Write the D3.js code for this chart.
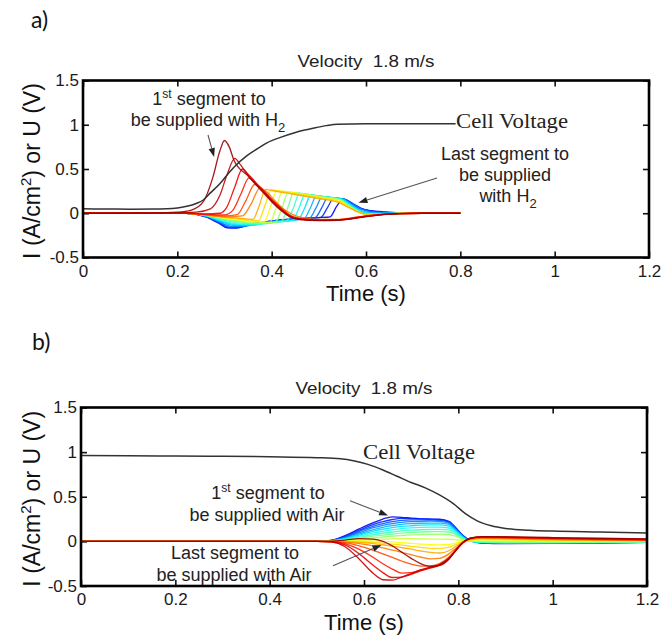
<!DOCTYPE html>
<html><head><meta charset="utf-8">
<script src="https://cdn.jsdelivr.net/npm/d3@7"></script>
<style>body{margin:0;background:#fff}</style>
</head><body>
<svg id="c" width="662" height="637"></svg>
<script>
// ---------- DATA ----------
const xTicks = [0, 0.2, 0.4, 0.6, 0.8, 1, 1.2];
const yTicks = [-0.5, 0, 0.5, 1, 1.5];
const titleText = "Velocity  1.8 m/s";

// Panel a: cell voltage (t, V)
const voltageA = [[0,0.05],[0.05,0.048],[0.1,0.046],[0.15,0.048],[0.2,0.06],[0.22,0.078],[0.24,0.11],[0.255,0.15],[0.27,0.23],[0.29,0.333],[0.305,0.43],[0.32,0.52],[0.347,0.648],[0.37,0.73],[0.39,0.796],[0.42,0.86],[0.447,0.907],[0.47,0.94],[0.49,0.963],[0.515,0.99],[0.54,1.007],[0.6,1.012],[0.7,1.01],[0.79,1.01]];

// Panel a: segment currents, ordered first -> last segment supplied with H2
const segmentsA = [
 [[0,0],[0.15,0.004],[0.2,0.012],[0.23,0.035],[0.255,0.13],[0.275,0.4],[0.29,0.7],[0.3,0.822],[0.31,0.75],[0.32,0.6],[0.35,0.42],[0.38,0.245],[0.4,0.13],[0.42,0.03],[0.44,-0.045],[0.46,-0.072],[0.5,-0.083],[0.54,-0.08],[0.57,-0.062],[0.6,-0.038],[0.63,-0.018],[0.67,-0.005],[0.72,0],[0.8,0]],
 [[0,0],[0.2,0.004],[0.24,0.012],[0.27,0.05],[0.29,0.2],[0.305,0.43],[0.322,0.62],[0.332,0.56],[0.35,0.43],[0.38,0.255],[0.4,0.14],[0.42,0.04],[0.44,-0.04],[0.46,-0.068],[0.5,-0.08],[0.54,-0.078],[0.57,-0.06],[0.6,-0.036],[0.63,-0.017],[0.67,-0.005],[0.72,0],[0.8,0]],
 [[0,0],[0.22,0],[0.26,-0.008],[0.29,0],[0.305,0.07],[0.322,0.3],[0.338,0.5],[0.35,0.44],[0.38,0.265],[0.4,0.15],[0.42,0.05],[0.44,-0.035],[0.46,-0.065],[0.5,-0.078],[0.54,-0.076],[0.57,-0.058],[0.6,-0.034],[0.63,-0.016],[0.67,-0.005],[0.72,0],[0.8,0]],
 [[0,0],[0.22,0],[0.26,-0.012],[0.3,-0.018],[0.317,0.03],[0.335,0.22],[0.352,0.4],[0.365,0.345],[0.38,0.27],[0.4,0.155],[0.42,0.055],[0.44,-0.03],[0.46,-0.062],[0.5,-0.076],[0.54,-0.074],[0.57,-0.056],[0.6,-0.032],[0.63,-0.015],[0.67,-0.004],[0.72,0],[0.8,0]],
 [[0,0],[0.22,0],[0.26,-0.016],[0.3,-0.03],[0.327,-0.015],[0.345,0.14],[0.364,0.325],[0.38,0.275],[0.4,0.16],[0.42,0.06],[0.44,-0.025],[0.46,-0.058],[0.5,-0.074],[0.54,-0.072],[0.57,-0.054],[0.6,-0.03],[0.63,-0.014],[0.67,-0.004],[0.72,0],[0.8,0]],
 [[0,0],[0.22,0],[0.26,-0.02],[0.3,-0.042],[0.338,-0.03],[0.356,0.1],[0.375,0.285],[0.39,0.24],[0.41,0.125],[0.43,0.03],[0.45,-0.028],[0.47,-0.055],[0.5,-0.07],[0.54,-0.07],[0.57,-0.052],[0.6,-0.029],[0.63,-0.013],[0.67,-0.003],[0.72,0],[0.8,0]],
 [[0,0],[0.22,0],[0.26,-0.015],[0.3,-0.04],[0.33,-0.055],[0.36,-0.07],[0.374,0.09],[0.387,0.27],[0.4,0.257],[0.45,0.212],[0.5,0.165],[0.54,0.125],[0.56,0.075],[0.58,0.022],[0.6,-0.008],[0.63,-0.01],[0.67,-0.002],[0.72,0],[0.8,0]],
 [[0,0],[0.22,0],[0.26,-0.015],[0.3,-0.045],[0.34,-0.07],[0.372,-0.085],[0.386,0.09],[0.399,0.265],[0.41,0.256],[0.45,0.222],[0.5,0.175],[0.54,0.135],[0.56,0.08],[0.58,0.022],[0.6,-0.01],[0.63,-0.01],[0.67,-0.002],[0.72,0],[0.8,0]],
 [[0,0],[0.22,0],[0.26,-0.018],[0.3,-0.05],[0.34,-0.08],[0.384,-0.095],[0.398,0.08],[0.411,0.258],[0.42,0.25],[0.46,0.22],[0.5,0.182],[0.54,0.142],[0.56,0.085],[0.58,0.024],[0.6,-0.012],[0.63,-0.011],[0.67,-0.002],[0.72,0],[0.8,0]],
 [[0,0],[0.22,0],[0.26,-0.02],[0.3,-0.055],[0.34,-0.085],[0.38,-0.1],[0.396,-0.104],[0.41,0.07],[0.423,0.25],[0.44,0.237],[0.48,0.203],[0.52,0.168],[0.545,0.145],[0.56,0.09],[0.58,0.025],[0.6,-0.012],[0.63,-0.011],[0.67,-0.002],[0.72,0],[0.8,0]],
 [[0,0],[0.22,0],[0.26,-0.02],[0.3,-0.06],[0.34,-0.095],[0.38,-0.11],[0.408,-0.1],[0.422,0.06],[0.435,0.242],[0.45,0.23],[0.49,0.197],[0.52,0.172],[0.545,0.15],[0.56,0.095],[0.58,0.028],[0.6,-0.012],[0.63,-0.01],[0.67,-0.002],[0.72,0],[0.8,0]],
 [[0,0],[0.22,0],[0.26,-0.022],[0.3,-0.07],[0.34,-0.105],[0.37,-0.118],[0.4,-0.105],[0.42,-0.095],[0.434,0.06],[0.447,0.235],[0.46,0.225],[0.5,0.192],[0.545,0.155],[0.56,0.1],[0.58,0.03],[0.6,-0.01],[0.63,-0.009],[0.67,-0.002],[0.72,0],[0.8,0]],
 [[0,0],[0.22,0],[0.26,-0.024],[0.3,-0.08],[0.34,-0.115],[0.375,-0.122],[0.41,-0.1],[0.432,-0.085],[0.446,0.06],[0.459,0.226],[0.47,0.219],[0.51,0.187],[0.545,0.158],[0.56,0.104],[0.58,0.032],[0.6,-0.008],[0.63,-0.007],[0.67,-0.001],[0.72,0],[0.8,0]],
 [[0,0],[0.22,0],[0.26,-0.026],[0.3,-0.09],[0.33,-0.122],[0.36,-0.128],[0.4,-0.105],[0.444,-0.08],[0.458,0.06],[0.471,0.216],[0.49,0.202],[0.52,0.18],[0.545,0.16],[0.56,0.108],[0.58,0.036],[0.6,-0.005],[0.63,-0.005],[0.67,-0.001],[0.72,0],[0.8,0]],
 [[0,0],[0.22,0],[0.26,-0.028],[0.3,-0.1],[0.325,-0.13],[0.355,-0.135],[0.4,-0.1],[0.456,-0.072],[0.47,0.06],[0.483,0.206],[0.5,0.196],[0.53,0.176],[0.548,0.162],[0.565,0.104],[0.585,0.036],[0.6,0.002],[0.63,-0.003],[0.67,0],[0.8,0]],
 [[0,0],[0.22,0],[0.26,-0.03],[0.3,-0.11],[0.32,-0.138],[0.347,-0.142],[0.39,-0.105],[0.43,-0.08],[0.468,-0.065],[0.482,0.06],[0.495,0.196],[0.51,0.189],[0.535,0.172],[0.55,0.163],[0.566,0.108],[0.585,0.042],[0.6,0.012],[0.63,0.001],[0.67,0],[0.8,0]],
 [[0,0],[0.22,0],[0.26,-0.032],[0.3,-0.125],[0.315,-0.15],[0.34,-0.146],[0.38,-0.106],[0.43,-0.075],[0.48,-0.058],[0.494,0.06],[0.507,0.186],[0.52,0.179],[0.54,0.168],[0.553,0.162],[0.568,0.11],[0.59,0.046],[0.61,0.016],[0.64,0.004],[0.68,0],[0.8,0]],
 [[0,0],[0.22,0],[0.26,-0.035],[0.29,-0.1],[0.31,-0.158],[0.33,-0.155],[0.37,-0.11],[0.42,-0.075],[0.46,-0.06],[0.492,-0.05],[0.506,0.06],[0.519,0.176],[0.535,0.169],[0.554,0.16],[0.57,0.112],[0.59,0.052],[0.61,0.021],[0.64,0.006],[0.68,0],[0.8,0]],
 [[0,0],[0.22,0],[0.26,-0.036],[0.29,-0.11],[0.305,-0.16],[0.325,-0.162],[0.36,-0.12],[0.41,-0.08],[0.46,-0.06],[0.504,-0.046],[0.518,0.06],[0.531,0.166],[0.545,0.161],[0.556,0.155],[0.572,0.11],[0.59,0.056],[0.61,0.026],[0.64,0.01],[0.68,0.002],[0.8,0]],
 [[0,0],[0.22,0],[0.26,-0.04],[0.29,-0.12],[0.305,-0.165],[0.325,-0.167],[0.35,-0.135],[0.4,-0.09],[0.45,-0.066],[0.5,-0.05],[0.524,-0.04],[0.538,0.08],[0.552,0.158],[0.562,0.14],[0.575,0.085],[0.59,0.05],[0.61,0.03],[0.64,0.015],[0.67,0.005],[0.72,0],[0.8,0]]
];

// Panel b: cell voltage (t, V)
const voltageB = [[0,0.962],[0.1,0.958],[0.2,0.956],[0.3,0.954],[0.4,0.948],[0.5,0.938],[0.55,0.925],[0.58,0.9],[0.61,0.86],[0.64,0.8],[0.67,0.73],[0.7,0.66],[0.73,0.6],[0.76,0.52],[0.79,0.42],[0.815,0.31],[0.84,0.23],[0.87,0.175],[0.9,0.145],[0.95,0.125],[1.0,0.115],[1.1,0.105],[1.2,0.095]];

// Panel b: sample times and segment currents, ordered first -> last segment supplied with Air
const timesB = [0,0.5,0.53,0.56,0.59,0.62,0.64,0.66,0.68,0.70,0.72,0.74,0.76,0.78,0.795,0.81,0.825,0.85,0.9,1.0,1.1,1.2];
const segmentsB = [
 [0,0,0.012,0.065,0.14,0.21,0.25,0.275,0.27,0.26,0.253,0.25,0.248,0.225,0.15,0.065,0.012,-0.018,-0.024,-0.022,-0.017,-0.012],
 [0,0,0.01,0.055,0.125,0.19,0.222,0.245,0.258,0.256,0.252,0.248,0.244,0.22,0.145,0.06,0.01,-0.017,-0.023,-0.021,-0.016,-0.011],
 [0,0,0.009,0.048,0.112,0.172,0.2,0.222,0.236,0.24,0.24,0.238,0.236,0.213,0.14,0.058,0.008,-0.016,-0.022,-0.02,-0.015,-0.01],
 [0,0,0.008,0.042,0.098,0.153,0.18,0.2,0.214,0.222,0.225,0.226,0.225,0.205,0.135,0.055,0.006,-0.015,-0.02,-0.019,-0.014,-0.01],
 [0,0,0.007,0.036,0.084,0.133,0.158,0.176,0.19,0.198,0.203,0.205,0.205,0.19,0.125,0.05,0.005,-0.013,-0.018,-0.017,-0.013,-0.009],
 [0,0,0.006,0.031,0.071,0.114,0.136,0.154,0.167,0.175,0.181,0.184,0.185,0.172,0.115,0.046,0.004,-0.011,-0.016,-0.015,-0.012,-0.008],
 [0,0,0.005,0.026,0.059,0.094,0.113,0.13,0.143,0.151,0.156,0.159,0.16,0.15,0.1,0.04,0.003,-0.009,-0.014,-0.013,-0.01,-0.007],
 [0,0,0.004,0.021,0.047,0.075,0.091,0.105,0.117,0.125,0.13,0.133,0.135,0.128,0.087,0.035,0.002,-0.007,-0.011,-0.011,-0.009,-0.006],
 [0,0,0.003,0.016,0.036,0.058,0.07,0.082,0.093,0.1,0.105,0.108,0.11,0.105,0.072,0.03,0.002,-0.004,-0.008,-0.008,-0.007,-0.005],
 [0,0,0.002,0.011,0.025,0.04,0.049,0.058,0.066,0.072,0.076,0.079,0.08,0.077,0.055,0.024,0.004,0,-0.004,-0.005,-0.004,-0.003],
 [0,0,0.001,0.006,0.013,0.02,0.024,0.028,0.03,0.03,0.028,0.026,0.025,0.024,0.018,0.01,0.006,0.006,0.004,0.001,0,-0.001],
 [0,0,0,0.002,0.004,0.003,0,-0.006,-0.014,-0.022,-0.03,-0.036,-0.04,-0.035,-0.018,0.002,0.014,0.02,0.016,0.009,0.005,0.002],
 [0,0,0,-0.002,-0.006,-0.012,-0.02,-0.03,-0.042,-0.055,-0.068,-0.078,-0.08,-0.065,-0.035,-0.003,0.018,0.027,0.022,0.013,0.008,0.005],
 [0,0,0,-0.004,-0.012,-0.025,-0.038,-0.053,-0.07,-0.088,-0.108,-0.124,-0.13,-0.105,-0.055,-0.008,0.022,0.033,0.028,0.018,0.012,0.008],
 [0,0,-0.001,-0.008,-0.025,-0.05,-0.072,-0.097,-0.122,-0.148,-0.175,-0.195,-0.19,-0.14,-0.075,-0.013,0.024,0.038,0.034,0.023,0.016,0.011],
 [0,0,-0.002,-0.015,-0.05,-0.1,-0.14,-0.18,-0.22,-0.255,-0.278,-0.275,-0.25,-0.175,-0.09,-0.014,0.027,0.043,0.039,0.028,0.02,0.014],
 [0,0,-0.003,-0.025,-0.09,-0.18,-0.25,-0.31,-0.355,-0.35,-0.32,-0.295,-0.265,-0.19,-0.1,-0.014,0.03,0.047,0.043,0.032,0.024,0.018],
 [0,0,-0.004,-0.04,-0.14,-0.27,-0.35,-0.405,-0.4,-0.37,-0.33,-0.3,-0.27,-0.195,-0.1,-0.012,0.033,0.05,0.047,0.036,0.028,0.021],
 [0,0,-0.006,-0.06,-0.2,-0.36,-0.43,-0.435,-0.4,-0.36,-0.32,-0.29,-0.26,-0.19,-0.095,-0.01,0.035,0.052,0.049,0.039,0.031,0.025],
 [0,0,0.003,0.015,0.03,0.025,0,-0.05,-0.12,-0.19,-0.25,-0.28,-0.27,-0.2,-0.1,-0.01,0.035,0.053,0.051,0.043,0.035,0.029]
];

// ---------- DRAWING ----------
const SANS = '"Liberation Sans", Arial, Helvetica, sans-serif';
const SERIF = '"Liberation Serif", "Times New Roman", Times, serif';
const svg = d3.select("#c");
const jet = d3.scaleLinear()
  .domain([0, 0.11, 0.36, 0.61, 0.86, 1])
  .range(["#00008f","#0000ff","#00ffff","#ffff00","#ff0000","#800000"])
  .interpolate(d3.interpolateRgb);

function arrow(g, x1, y1, x2, y2) {
  const dx = x2 - x1, dy = y2 - y1, L = Math.hypot(dx, dy), ux = dx / L, uy = dy / L;
  const hl = 9, hw = 3.2, bx = x2 - ux * hl, by = y2 - uy * hl;
  g.append("line").attr("x1", x1).attr("y1", y1).attr("x2", bx).attr("y2", by)
    .attr("stroke", "#555").attr("stroke-width", 1.1);
  g.append("path").attr("d", `M${x2},${y2}L${bx - uy * hw},${by + ux * hw}L${bx + uy * hw},${by - ux * hw}Z`)
    .attr("fill", "#222");
}

function panel(box, voltage, curves, curveColor, drawOrder, labelY) {
  const g = svg.append("g");
  const x = d3.scaleLinear([0, 1.2], [box.left, box.right]);
  const y = d3.scaleLinear([-0.5, 1.5], [box.bottom, box.top]);
  const line = d3.line().x(d => x(d[0])).y(d => y(d[1])).curve(d3.curveMonotoneX);

  const tickStyle = s => s.call(a => a.select(".domain").remove())
    .call(a => a.selectAll(".tick line").attr("stroke", "#111").attr("stroke-width", 1.6))
    .call(a => a.selectAll("text").style("font-family", SANS)
      .style("font-size", "17px").attr("fill", "#1a1a1a"));
  g.append("g").attr("transform", `translate(0,${box.bottom})`)
    .call(d3.axisBottom(x).tickValues(xTicks).tickSize(-6).tickPadding(7).tickFormat(d => String(d))).call(tickStyle);
  g.append("g").attr("transform", `translate(0,${box.top})`)
    .call(d3.axisTop(x).tickValues(xTicks).tickSize(-6).tickFormat("")).call(tickStyle);
  g.append("g").attr("transform", `translate(${box.left},0)`)
    .call(d3.axisLeft(y).tickValues(yTicks).tickSize(-6).tickPadding(4).tickFormat(d => String(d))).call(tickStyle);
  g.append("g").attr("transform", `translate(${box.right},0)`)
    .call(d3.axisRight(y).tickValues(yTicks).tickSize(-6).tickFormat("")).call(tickStyle);

  drawOrder.forEach(i => {
    g.append("path").attr("d", line(curves[i])).attr("fill", "none")
      .attr("stroke", curveColor(i)).attr("stroke-width", 1.3).attr("stroke-opacity", 0.9);
  });
  g.append("path").attr("d", line(voltage)).attr("fill", "none")
    .attr("stroke", "#333").attr("stroke-width", 1.5);

  g.append("rect").attr("x", box.left).attr("y", box.top)
    .attr("width", box.right - box.left).attr("height", box.bottom - box.top)
    .attr("fill", "none").attr("stroke", "#000").attr("stroke-width", 2.6);

  const cx = (box.left + box.right) / 2;
  g.append("text").attr("x", cx).attr("y", box.top - 14).attr("text-anchor", "middle")
    .style("font-family", SANS).style("font-size", "17px").style("white-space", "pre")
    .attr("fill", "#222").attr("textLength", 137).attr("lengthAdjust", "spacingAndGlyphs")
    .text(titleText);
  g.append("text").attr("x", cx).attr("y", labelY).attr("text-anchor", "middle")
    .style("font-family", SANS).style("font-size", "22px").attr("fill", "#111").text("Time (s)");
  const yl = g.append("text").attr("transform", `translate(40,${(box.top + box.bottom) / 2 + 2}) rotate(-90)`)
    .attr("text-anchor", "middle").style("font-family", SANS).style("font-size", "23px").attr("fill", "#111");
  yl.append("tspan").text("I (A/cm");
  yl.append("tspan").attr("dy", -9).style("font-size", "15px").text("2");
  yl.append("tspan").attr("dy", 9).text(") or U (V)");
  return { g, x, y };
}

function annot(g, cxp, yb, parts) {
  const t = g.append("text").attr("x", cxp).attr("y", yb).attr("text-anchor", "middle")
    .style("font-family", SANS).style("font-size", "18px").attr("fill", "#222");
  parts.forEach(p => {
    const s = t.append("tspan").text(p.t);
    if (p.sup) s.attr("dy", -7).style("font-size", "12px");
    else if (p.sub) s.attr("dy", 6).style("font-size", "13px");
    else if (p.back) s.attr("dy", p.back);
  });
}

function cellVoltage(g, xp, yb) {
  g.append("text").attr("x", xp).attr("y", yb)
    .style("font-family", SERIF).style("font-size", "20px").attr("fill", "#222")
    .attr("textLength", 112).attr("lengthAdjust", "spacingAndGlyphs").text("Cell Voltage");
}

// Panel a
const boxA = { left: 83, right: 649, top: 80.5, bottom: 257.5 };
const nA = segmentsA.length;
const A = panel(boxA, voltageA, segmentsA, i => jet(0.97 - 0.87 * i / (nA - 1)), d3.range(nA - 1, -1, -1), 301);
annot(A.g, 209, 105, [{ t: "1" }, { t: "st", sup: true }, { t: " segment to", back: 7 }]);
annot(A.g, 208, 126, [{ t: "be supplied with H" }, { t: "2", sub: true }]);
annot(A.g, 505, 160, [{ t: "Last segment to" }]);
annot(A.g, 505, 181, [{ t: "be supplied" }]);
annot(A.g, 508, 202, [{ t: "with H" }, { t: "2", sub: true }]);
cellVoltage(A.g, 456, 128);
arrow(A.g, 208, 135, A.x(0.278), A.y(0.636));
arrow(A.g, 437, 178, A.x(0.584), A.y(0.12));
svg.append("text").attr("x", 31).attr("y", 28).style("font-family", "Lato, 'Open Sans', sans-serif")
  .style("font-size", "23px").attr("fill", "#111").text("a)");

// Panel b
const boxB = { left: 81, right: 647, top: 407.5, bottom: 586 };
const curvesB = segmentsB.map(vals => timesB.map((t, i) => [t, vals[i]]));
const nB = curvesB.length;
const B = panel(boxB, voltageB, curvesB, i => jet(0.1 + 0.87 * i / (nB - 1)), d3.range(nB), 629.5);
annot(B.g, 268, 498.5, [{ t: "1" }, { t: "st", sup: true }, { t: " segment to", back: 7 }]);
annot(B.g, 267, 520.5, [{ t: "be supplied with Air" }]);
annot(B.g, 235, 558.5, [{ t: "Last segment to" }]);
annot(B.g, 234, 580.5, [{ t: "be supplied with Air" }]);
cellVoltage(B.g, 363, 459);
arrow(B.g, 350, 500.8, B.x(0.651), B.y(0.29));
arrow(B.g, 333, 565.8, B.x(0.637), B.y(-0.04));
svg.append("text").attr("x", 32).attr("y", 350).style("font-family", "Lato, 'Open Sans', sans-serif")
  .style("font-size", "23px").attr("fill", "#111").text("b)");
</script>
</body></html>
